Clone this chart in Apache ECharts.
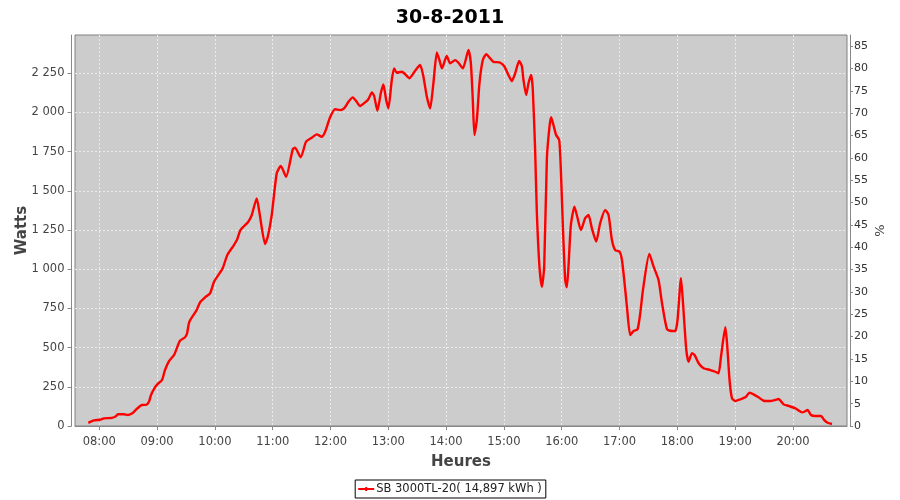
<!DOCTYPE html>
<html>
<head>
<meta charset="utf-8">
<script src="https://cdn.jsdelivr.net/npm/echarts@6/dist/echarts.min.js"></script>
<style>html,body{margin:0;padding:0;background:#fff}#c{width:900px;height:500px}</style>
</head>
<body>
<div id="c"></div>
<script>
// time in minutes since midnight
const times = [468.6,474.5,480.7,484.9,493.2,497.3,499.4,505.6,509.8,513.9,516.0,519.1,524.3,528.5,531.6,533.7,537.8,541.0,545.1,548.2,552.4,557.6,563.8,569.0,571.1,573.5,581.1,584.6,589.8,595.0,599.1,603.6,608.1,612.9,619.1,623.3,626.5,634.7,638.3,643.4,646.1,652.1,654.9,659.0,664.2,668.4,673.9,680.8,683.2,689.1,694.6,700.6,705.7,710.9,714.4,719.6,724.8,730.0,734.1,738.6,743.1,746.6,750.7,755.9,759.3,762.9,765.3,768.7,772.2,774.9,777.8,780.1,783.6,786.0,788.8,794.0,797.4,801.9,806.1,809.6,813.0,816.4,820.0,823.4,826.8,830.4,833.1,835.6,840.7,844.2,849.4,852.8,857.4,863.2,865.7,867.7,869.4,871.9,874.6,878.1,881.6,885.7,889.1,895.4,900.2,904.7,908.2,911.7,915.8,918.6,920.3,923.1,925.5,928.3,930.0,932.4,934.2,936.9,939.4,941.8,944.6,947.3,949.0,951.4,954.2,957.4,959.1,961.2,963.6,965.3,967.0,969.5,973.2,976.3,979.9,984.3,987.8,991.3,995.8,999.9,1005.1,1008.6,1012.1,1015.5,1020.0,1022.5,1024.9,1027.7,1031.1,1034.6,1038.7,1041.5,1044.3,1050.9,1055.4,1060.5,1064.1,1069.3,1074.5,1077.9,1080.2,1083.8,1085.9,1089.3,1091.7,1095.2,1097.9,1102.1,1107.2,1114.2,1119.4,1122.8,1125.3,1129.8,1131.6,1134.2,1136.7,1140.1,1145.3,1150.5,1155.0,1159.1,1164.3,1169.5,1176.5,1181.7,1185.1,1190.3,1195.5,1202.4,1209.4,1211.8,1215.2,1218.7,1223.2,1229.1,1232.5,1236.0,1240.5];
const watts = [20,36,40,49,52,62,76,75,70,80,91,110,134,135,155,198,247,270,293,357,414,453,544,566,590,665,740,789,821,846,920,963,1006,1091,1148,1193,1250,1303,1346,1452,1367,1161,1207,1346,1612,1658,1590,1765,1775,1714,1813,1839,1860,1845,1877,1969,2020,2015,2026,2068,2096,2073,2041,2064,2084,2128,2105,2011,2122,2179,2079,2026,2207,2281,2253,2260,2245,2218,2250,2281,2303,2230,2100,2026,2186,2383,2334,2281,2360,2313,2334,2317,2281,2398,2313,2079,1856,1952,2186,2334,2371,2345,2323,2319,2296,2239,2200,2250,2328,2296,2207,2111,2186,2239,2143,1760,1357,1016,888,1016,1707,1909,1969,1920,1856,1824,1633,1271,931,885,1016,1282,1399,1330,1250,1325,1346,1261,1176,1293,1378,1346,1186,1122,1112,1059,931,760,580,606,617,719,867,1097,1016,931,783,617,606,606,676,942,783,485,410,464,453,400,368,357,346,336,442,630,527,293,177,159,170,183,212,202,183,161,159,166,172,138,128,113,87,91,102,70,64,64,38,21,13];
const hourTicks = [480,540,600,660,720,780,840,900,960,1020,1080,1140,1200];
const wattTicks = [0,250,500,750,1000,1250,1500,1750,2000,2250];
const pctTicks = [0,5,10,15,20,25,30,35,40,45,50,55,60,65,70,75,80,85];
const titleText = '30-8-2011';
const seriesName = 'SB 3000TL-20( 14,897 kWh )';

const FONT = 'DejaVu Sans';
const labelColor = '#444444';
const axisColor = '#888888';
const gridLine = {show: true, lineStyle: {color: '#ececec', type: [2, 2], width: 1}};

function fmtThousands(v){
  return String(Math.round(v)).replace(/\B(?=(\d{3})+(?!\d))/g, ' ');
}
function fmtHour(v){
  const h = Math.floor(v/60), m = Math.round(v - h*60);
  return (h<10?'0':'')+h+':'+(m<10?'0':'')+m;
}

const chart = echarts.init(document.getElementById('c'), null, {renderer: 'canvas'});
chart.setOption({
  animation: false,
  backgroundColor: '#ffffff',
  title: {
    text: titleText, left: 'center', top: 4,
    textStyle: {fontFamily: FONT, fontSize: 19, fontWeight: 'bold', color: '#000'}
  },
  legend: {
    bottom: 2, left: 'center',
    data: [{name: seriesName, icon: 'path://M0,4 L7,4 L7,3 L9,3 L9,4 L16,4 L16,6 L9,6 L9,7 L7,7 L7,6 L0,6 Z'}],
    borderColor: '#000', borderWidth: 1, borderRadius: 0,
    padding: [3, 4, 3, 3],
    itemWidth: 16, itemHeight: 4, itemGap: 0,
    textStyle: {fontFamily: FONT, fontSize: 11.5, color: '#222', padding: [0,0,0,-3]}
  },
  grid: {
    left: 75, right: 53, top: 35, bottom: 74,
    show: true, backgroundColor: '#cccccc', borderColor: '#808080', borderWidth: 1,
    containLabel: false
  },
  xAxis: {
    type: 'value', min: 454.8, max: 1256.1,
    offset: 4,
    name: 'Heures', nameLocation: 'middle', nameGap: 25, nameMoveOverlap: false,
    nameTextStyle: {fontFamily: FONT, fontSize: 15, fontWeight: 'bold', color: labelColor},
    axisLine: {show: true, lineStyle: {color: axisColor}},
    axisTick: {show: true, length: 4, customValues: hourTicks, lineStyle: {color: axisColor}},
    axisLabel: {customValues: hourTicks, formatter: fmtHour, margin: 6,
      fontFamily: FONT, fontSize: 11.5, color: labelColor},
    splitLine: gridLine
  },
  yAxis: [{
    type: 'value', min: 0, max: 2494, position: 'left', offset: 3.5,
    name: 'Watts', nameLocation: 'middle', nameGap: 42, nameMoveOverlap: false,
    nameTextStyle: {fontFamily: FONT, fontSize: 15, fontWeight: 'bold', color: labelColor},
    axisLine: {show: true, lineStyle: {color: axisColor}},
    axisTick: {show: true, length: 4, customValues: wattTicks, lineStyle: {color: axisColor}},
    axisLabel: {customValues: wattTicks, formatter: fmtThousands, margin: 7,
      fontFamily: FONT, fontSize: 11.5, color: labelColor},
    splitLine: gridLine
  }, {
    type: 'value', min: 0, max: 87.5, position: 'right', offset: 3,
    name: '%', nameLocation: 'middle', nameGap: 24, nameMoveOverlap: false,
    nameTextStyle: {fontFamily: FONT, fontSize: 13, color: labelColor},
    axisLine: {show: true, lineStyle: {color: axisColor}},
    axisTick: {show: true, length: 3, customValues: pctTicks, lineStyle: {color: axisColor}},
    axisLabel: {customValues: pctTicks, margin: 4,
      fontFamily: FONT, fontSize: 11, color: '#333'},
    splitLine: {show: false}
  }],
  series: [{
    name: seriesName,
    type: 'line',
    yAxisIndex: 0,
    data: times.map((t, i) => [t, watts[i]]),
    showSymbol: false,
    lineStyle: {color: '#ff0000', width: 2.4},
    itemStyle: {color: '#ff0000'},
    smooth: 0.2
  }]
});
</script>
</body>
</html>
